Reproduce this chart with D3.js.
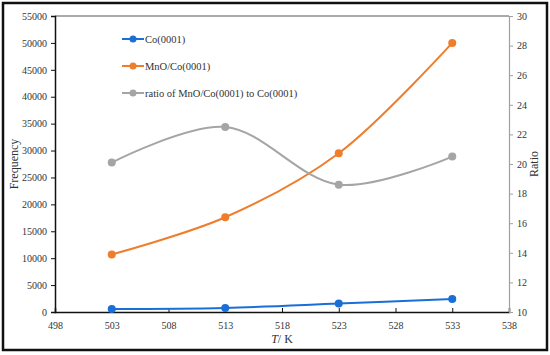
<!DOCTYPE html>
<html>
<head>
<meta charset="utf-8">
<script src="https://cdn.jsdelivr.net/npm/d3@7"></script>
<style>
  body { margin: 0; background: #fff; }
  svg text { font-family: "Liberation Serif", "Times New Roman", serif; fill: #333; }
</style>
</head>
<body>
<svg id="view" width="550" height="355"></svg>
<script>
const temps = [503, 513, 523, 533];
const coFreq = [560, 760, 1560, 2420];
const mnoFreq = [10700, 17600, 29500, 50000];
const ratio = [20.1, 22.5, 18.6, 20.5];

const xTicks = [498, 503, 508, 513, 518, 523, 528, 533, 538];
const leftTicks = d3.range(0, 55001, 5000);
const rightTicks = d3.range(10, 31, 2);

const seriesNames = ['Co(0001)', 'MnO/Co(0001)', 'ratio of MnO/Co(0001) to Co(0001)'];
const seriesColors = ['#1a6fd6', '#ef7d2c', '#a5a5a5'];

function draw() {
    const svg = d3.select('svg#view');
    const left = 55, right = 509, top = 16, bottom = 312;

    // frame round the whole picture
    svg.append('rect')
        .attr('x', 3).attr('y', 3)
        .attr('width', 544).attr('height', 347)
        .attr('fill', 'none')
        .attr('stroke', '#111')
        .attr('stroke-width', 2.5);

    const x = d3.scaleLinear().domain([498, 538]).range([left, right]);
    const yL = d3.scaleLinear().domain([0, 55000]).range([bottom, top]);
    const yR = d3.scaleLinear().domain([10, 30]).range([bottom, top]);

    // top edge of plot area
    svg.append('line')
        .attr('x1', left).attr('x2', right)
        .attr('y1', top).attr('y2', top)
        .attr('stroke', '#555').attr('stroke-width', 1);

    const xAxis = svg.append('g')
        .attr('transform', 'translate(0,' + bottom + ')')
        .call(d3.axisBottom(x).tickValues(xTicks).tickSize(-4).tickPadding(10).tickFormat(d3.format('d')));
    xAxis.select('.domain').attr('stroke', '#111').attr('stroke-width', 1.5);
    xAxis.selectAll('.tick line').attr('stroke', '#111');

    const lAxis = svg.append('g')
        .attr('transform', 'translate(' + left + ',0)')
        .call(d3.axisLeft(yL).tickValues(leftTicks).tickSize(4).tickPadding(4).tickFormat(d3.format('d')));
    lAxis.select('.domain').attr('stroke', '#111').attr('stroke-width', 1.5);
    lAxis.selectAll('.tick line').attr('stroke', '#111');

    const rAxis = svg.append('g')
        .attr('transform', 'translate(' + right + ',0)')
        .call(d3.axisRight(yR).tickValues(rightTicks).tickSize(4).tickPadding(4));
    rAxis.select('.domain').attr('stroke', '#a0a0a0').attr('stroke-width', 1.2);
    rAxis.selectAll('.tick line').attr('stroke', '#a0a0a0');

    svg.selectAll('.tick text')
        .attr('font-size', 10)
        .attr('font-family', '"Liberation Serif", serif')
        .attr('fill', '#444');

    // axis titles
    svg.append('text')
        .attr('transform', 'translate(18,' + ((top + bottom) / 2) + ') rotate(-90)')
        .attr('text-anchor', 'middle')
        .attr('font-size', 12)
        .text('Frequency');
    svg.append('text')
        .attr('transform', 'translate(538,' + ((top + bottom) / 2) + ') rotate(-90)')
        .attr('text-anchor', 'middle')
        .attr('font-size', 12)
        .text('Ratio');
    const xt = svg.append('text')
        .attr('x', (left + right) / 2)
        .attr('y', 343)
        .attr('text-anchor', 'middle')
        .attr('font-size', 12);
    xt.append('tspan').attr('font-style', 'italic').text('T');
    xt.append('tspan').text('/ K');

    const series = [
        { vals: coFreq, y: yL, color: seriesColors[0] },
        { vals: mnoFreq, y: yL, color: seriesColors[1] },
        { vals: ratio, y: yR, color: seriesColors[2] }
    ];

    series.forEach(function(s) {
        const line = d3.line()
            .x(function(d, i) { return x(temps[i]); })
            .y(function(d) { return s.y(d); })
            .curve(d3.curveCatmullRom.alpha(0.5));
        svg.append('path')
            .datum(s.vals)
            .attr('d', line)
            .attr('fill', 'none')
            .attr('stroke', s.color)
            .attr('stroke-width', 2);
        svg.append('g')
            .selectAll('circle')
            .data(s.vals)
            .enter()
            .append('circle')
            .attr('cx', function(d, i) { return x(temps[i]); })
            .attr('cy', function(d) { return s.y(d); })
            .attr('r', 4)
            .attr('fill', s.color);
    });

    // legend
    const legend = svg.append('g')
        .selectAll('g')
        .data(seriesNames)
        .enter()
        .append('g')
        .attr('transform', function(d, i) { return 'translate(122,' + (39 + i * 27) + ')'; });
    legend.append('line')
        .attr('x1', 0).attr('x2', 22)
        .attr('stroke', function(d, i) { return seriesColors[i]; })
        .attr('stroke-width', 2);
    legend.append('circle')
        .attr('cx', 11).attr('r', 3.5)
        .attr('fill', function(d, i) { return seriesColors[i]; });
    legend.append('text')
        .attr('x', 23).attr('dy', '0.35em')
        .attr('font-size', 10.5)
        .text(function(d) { return d; });
}

draw();
</script>
</body>
</html>
